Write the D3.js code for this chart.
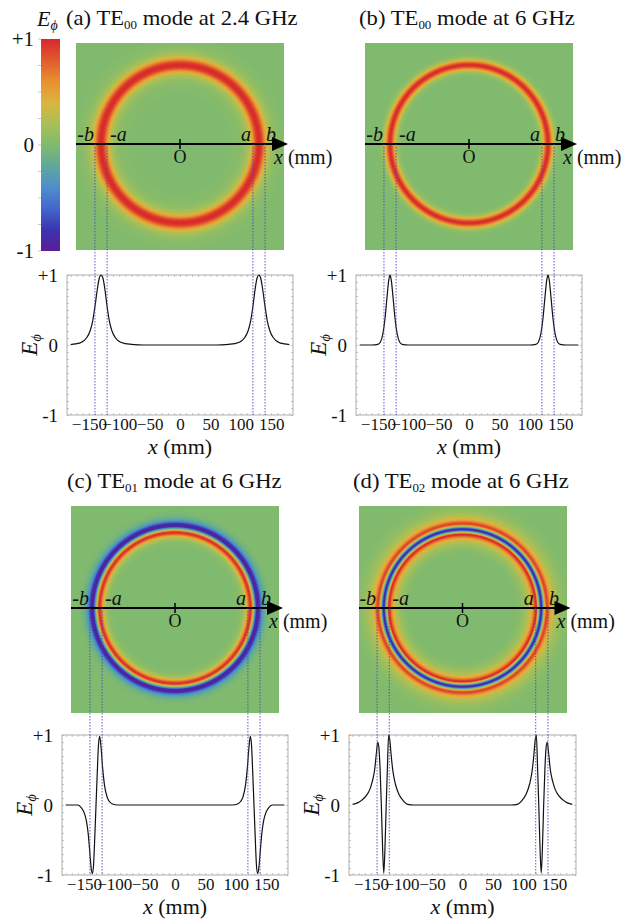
<!DOCTYPE html>
<html>
<head>
<meta charset="utf-8">
<script src="https://cdn.jsdelivr.net/npm/d3@7"></script>
<style>
  body { margin: 0; background: #fff; }
  svg { display: block; }
  text { font-family: "Liberation Serif", "Times New Roman", "DejaVu Serif", serif; fill: #111; }
</style>
</head>
<body>
<div id="fig"></div>
<script>
// radial field profiles (r in mm, E normalised)
let rA = [0, 60, 80, 90, 100, 106, 112, 116, 120, 124, 127, 130, 133, 136, 140, 144, 148, 154, 162, 172, 180];
let eA = [0, 0, 0.01, 0.02, 0.05, 0.1, 0.2, 0.33, 0.55, 0.82, 0.96, 1, 0.95, 0.8, 0.55, 0.33, 0.2, 0.1, 0.04, 0.015, 0.005];

let rB = [0, 100, 110, 114, 118, 122, 125, 128, 130, 132, 135, 138, 142, 146, 150, 160, 180];
let eB = [0, 0, 0.01, 0.04, 0.15, 0.4, 0.68, 0.93, 1, 0.93, 0.68, 0.4, 0.15, 0.04, 0.01, 0, 0];

let rC = [0, 95, 102, 108, 112, 116, 119, 122, 124, 126, 128, 130, 132, 134, 136, 138, 140, 143, 146, 150, 155, 160, 180];
let eC = [0, 0, 0.01, 0.05, 0.12, 0.28, 0.52, 0.85, 0.98, 0.85, 0.45, 0, -0.45, -0.85, -0.98, -0.9, -0.7, -0.4, -0.22, -0.1, -0.03, 0, 0];

let rD = [0, 80, 90, 97, 104, 110, 114, 117, 119, 121, 123, 125, 127, 129, 131, 133, 135, 137, 139, 141, 144, 148, 152, 158, 165, 172, 180];
let eD = [0, 0, 0.01, 0.06, 0.15, 0.3, 0.48, 0.72, 0.92, 1, 0.55, 0, -0.6, -0.97, -0.6, 0, 0.5, 0.82, 0.9, 0.75, 0.5, 0.33, 0.22, 0.13, 0.07, 0.03, 0.01];

// guide radii a and b (mm)
let guideA = 120;
let guideB = 140;

let panelLetters = ["(a)", "(b)", "(c)", "(d)"];
let modeSubs = ["00", "00", "01", "02"];
let freqLabels = ["2.4 GHz", "6 GHz", "6 GHz", "6 GHz"];

let xTickVals = [-150, -100, -50, 0, 50, 100, 150];
let xTickLabels = ["\u2212150", "\u2212100", "\u221250", "0", "50", "100", "150"];
let yTickVals = [1, 0, -1];
let yTickLabels = ["+1", "0", "-1"];

let colorVals = [1, 0.8, 0.6, 0.4, 0.2, 0, -0.2, -0.4, -0.6, -0.8, -1];
let colorHex = ["#d8282a", "#e05a2e", "#e8902f", "#dbb43e", "#a8c056", "#80ba6e",
                "#5ea89a", "#4e8ecb", "#4466cc", "#3a34b0", "#5c1c96"];

let W = 621, H = 924;
let xDomain = [-186, 186];

let svg = d3.select("#fig").append("svg")
  .attr("width", W)
  .attr("height", H);

let color = d3.scaleLinear()
  .domain(colorVals)
  .range(colorHex)
  .interpolate(d3.interpolateRgb)
  .clamp(true);

// layout of each panel
let panels = [
  { r: rA, e: eA, x0: 67,  x1: 293, axisY: 144, imgTop: 43,  plotTop: 275, plotBot: 415, titleX: 66,  titleY: 25 },
  { r: rB, e: eB, x0: 356, x1: 582, axisY: 144, imgTop: 43,  plotTop: 275, plotBot: 415, titleX: 359, titleY: 25 },
  { r: rC, e: eC, x0: 62,  x1: 288, axisY: 608, imgTop: 506, plotTop: 735, plotBot: 875, titleX: 67,  titleY: 488 },
  { r: rD, e: eD, x0: 349, x1: 576, axisY: 608, imgTop: 506, plotTop: 735, plotBot: 875, titleX: 353, titleY: 488 }
];

// ---------- colour bar ----------
let barX = 41, barW = 19, barTop = 39, barBot = 251;
let grad = svg.append("defs").append("linearGradient")
  .attr("id", "cbar")
  .attr("x1", 0).attr("y1", 0).attr("x2", 0).attr("y2", 1);
grad.selectAll("stop")
  .data(colorVals)
  .enter()
  .append("stop")
  .attr("offset", d => (1 - d) / 2)
  .attr("stop-color", d => color(d));

let barScale = d3.scaleLinear().domain([1, -1]).range([barTop, barBot]);
svg.append("rect")
  .attr("x", barX).attr("y", barTop)
  .attr("width", barW).attr("height", barBot - barTop)
  .attr("fill", "url(#cbar)");

svg.append("g")
  .selectAll("line")
  .data(d3.range(-1, 1.01, 0.25))
  .enter()
  .append("line")
  .attr("x1", barX - 3).attr("x2", barX)
  .attr("y1", d => barScale(d)).attr("y2", d => barScale(d))
  .attr("stroke", "#bbb").attr("stroke-width", 0.8);

svg.append("g")
  .selectAll("text")
  .data(yTickVals)
  .enter()
  .append("text")
  .attr("x", 34)
  .attr("y", d => barScale(d) + 7)
  .attr("text-anchor", "end")
  .style("font-size", "21px")
  .text((d, i) => yTickLabels[i]);

let eLab = svg.append("text")
  .attr("x", 37).attr("y", 26)
  .style("font-size", "22px")
  .style("font-style", "italic");
eLab.append("tspan").text("E");
eLab.append("tspan").attr("dy", 4).style("font-size", "14px").text("\u03d5");

// ---------- panels ----------
panels.forEach((p, idx) => {
  let xs = d3.scaleLinear().domain(xDomain).range([p.x0, p.x1]);
  let k = (p.x1 - p.x0) / (xDomain[1] - xDomain[0]);
  let cx = xs(0);
  let ys = d3.scaleLinear().domain([-1, 1]).range([p.plotBot, p.plotTop]);
  let prof = d3.scaleLinear().domain(p.r).range(p.e).clamp(true);

  // title (the source lettering is a little wider than Times)
  let t = svg.append("text")
    .attr("transform", `translate(${p.titleX},${p.titleY}) scale(1.08,1)`)
    .style("font-size", "21px");
  t.append("tspan").text(panelLetters[idx] + " TE");
  t.append("tspan").attr("dy", 4).style("font-size", "12px").text(modeSubs[idx]);
  t.append("tspan").attr("dy", -4).text(" mode at " + freqLabels[idx]);

  // field map, E(r) from the profile through the colour scale
  let iw = 208, ih = 207;
  let left = Math.round(cx - 104);
  let cv = document.createElement("canvas");
  cv.width = iw; cv.height = ih;
  let ctx = cv.getContext("2d");
  let img = ctx.createImageData(iw, ih);
  for (let j = 0; j < ih; j++) {
    for (let i = 0; i < iw; i++) {
      let dx = (left + i + 0.5 - cx) / k;
      let dy = (p.imgTop + j + 0.5 - p.axisY) / k;
      let c = d3.rgb(color(prof(Math.hypot(dx, dy))));
      let o = (j * iw + i) * 4;
      img.data[o] = c.r; img.data[o + 1] = c.g; img.data[o + 2] = c.b; img.data[o + 3] = 255;
    }
  }
  ctx.putImageData(img, 0, 0);
  svg.append("image")
    .attr("x", left).attr("y", p.imgTop)
    .attr("width", iw).attr("height", ih)
    .attr("preserveAspectRatio", "none")
    .attr("href", cv.toDataURL());

  // x axis drawn on the map
  svg.append("line")
    .attr("x1", left).attr("x2", cx + 95)
    .attr("y1", p.axisY).attr("y2", p.axisY)
    .attr("stroke", "#000").attr("stroke-width", 2);
  svg.append("path")
    .attr("d", `M${cx + 92},${p.axisY - 7}L${cx + 108},${p.axisY}L${cx + 92},${p.axisY + 7}Z`)
    .attr("fill", "#000");
  svg.append("line")
    .attr("x1", cx).attr("x2", cx)
    .attr("y1", p.axisY - 5).attr("y2", p.axisY + 5)
    .attr("stroke", "#000").attr("stroke-width", 1.5);
  svg.append("text")
    .attr("x", cx).attr("y", p.axisY + 19)
    .attr("text-anchor", "middle")
    .style("font-size", "18px")
    .text("O");

  let ax = svg.append("text")
    .attr("x", cx + 94).attr("y", p.axisY + 20)
    .style("font-size", "20px");
  ax.append("tspan").style("font-style", "italic").text("x");
  ax.append("tspan").text(" (mm)");

  let guides = [
    { v: -guideB, lab: "-b", anchor: "end", off: -1 },
    { v: -guideA, lab: "-a", anchor: "start", off: 3 },
    { v: guideA, lab: "a", anchor: "end", off: -2 },
    { v: guideB, lab: "b", anchor: "start", off: 1 }
  ];
  svg.append("g")
    .selectAll("text")
    .data(guides)
    .enter()
    .append("text")
    .attr("x", d => xs(d.v) + d.off)
    .attr("y", p.axisY - 3)
    .attr("text-anchor", d => d.anchor)
    .style("font-size", "20px")
    .style("font-style", "italic")
    .text(d => d.lab);

  // line plot frame
  let g = svg.append("g");
  g.append("rect")
    .attr("x", p.x0).attr("y", p.plotTop)
    .attr("width", p.x1 - p.x0).attr("height", p.plotBot - p.plotTop)
    .attr("fill", "none").attr("stroke", "#999").attr("stroke-width", 0.8);

  let minorX = d3.range(-180, 181, 10);
  let minorY = d3.range(-1, 1.01, 0.1);
  let tickStyle = sel => {
    sel.select(".domain").remove();
    sel.selectAll("line").attr("stroke", "#aaa").attr("stroke-width", 0.7);
  };
  g.append("g").attr("transform", `translate(0,${p.plotBot})`)
    .call(d3.axisBottom(xs).tickValues(minorX).tickSize(-2).tickFormat("")).call(tickStyle);
  g.append("g").attr("transform", `translate(0,${p.plotTop})`)
    .call(d3.axisTop(xs).tickValues(minorX).tickSize(-2).tickFormat("")).call(tickStyle);
  g.append("g").attr("transform", `translate(${p.x0},0)`)
    .call(d3.axisLeft(ys).tickValues(minorY).tickSize(-2).tickFormat("")).call(tickStyle);
  g.append("g").attr("transform", `translate(${p.x1},0)`)
    .call(d3.axisRight(ys).tickValues(minorY).tickSize(-2).tickFormat("")).call(tickStyle);

  // tick labels (they crowd into each other on the left, as in the source)
  let xa = g.append("g").attr("transform", `translate(0,${p.plotBot})`)
    .call(d3.axisBottom(xs).tickValues(xTickVals).tickSize(0).tickPadding(3)
      .tickFormat((d, i) => xTickLabels[i]));
  xa.select(".domain").remove();
  xa.selectAll("text")
    .attr("font-family", null)
    .style("font-size", "17px")
    .attr("fill", "#111");

  let ya = g.append("g").attr("transform", `translate(${p.x0},0)`)
    .call(d3.axisLeft(ys).tickValues(yTickVals).tickSize(0).tickPadding(9)
      .tickFormat((d, i) => yTickLabels[i]));
  ya.select(".domain").remove();
  ya.selectAll("text")
    .attr("font-family", null)
    .style("font-size", "19px")
    .attr("fill", "#111");

  let xl = g.append("text")
    .attr("x", cx).attr("y", p.plotBot + 39)
    .attr("text-anchor", "middle")
    .style("font-size", "22px");
  xl.append("tspan").style("font-style", "italic").text("x");
  xl.append("tspan").text(" (mm)");

  let yl = g.append("text")
    .attr("transform", `translate(${p.x0 - 30},${(p.plotTop + p.plotBot) / 2}) rotate(-90)`)
    .attr("text-anchor", "middle")
    .style("font-size", "23px")
    .style("font-style", "italic");
  yl.append("tspan").text("E");
  yl.append("tspan").attr("dy", 4).style("font-size", "14px").text("\u03d5");

  // profile across the full diameter
  let pts = [];
  for (let i = p.r.length - 1; i > 0; i--) pts.push([-p.r[i], p.e[i]]);
  for (let i = 0; i < p.r.length; i++) pts.push([p.r[i], p.e[i]]);
  g.append("path")
    .datum(pts)
    .attr("fill", "none")
    .attr("stroke", "#111")
    .attr("stroke-width", 1.2)
    .attr("d", d3.line()
      .x(d => xs(d[0]))
      .y(d => ys(d[1]))
      .curve(d3.curveMonotoneX));

  // dotted guides from the map down to the plot
  svg.append("g")
    .selectAll("line")
    .data([-guideB, -guideA, guideA, guideB])
    .enter()
    .append("line")
    .attr("x1", d => xs(d)).attr("x2", d => xs(d))
    .attr("y1", p.axisY).attr("y2", p.plotBot)
    .attr("stroke", "#4848c0")
    .attr("stroke-width", 0.9)
    .attr("stroke-dasharray", "1.5,1.5");
});
</script>
</body>
</html>
